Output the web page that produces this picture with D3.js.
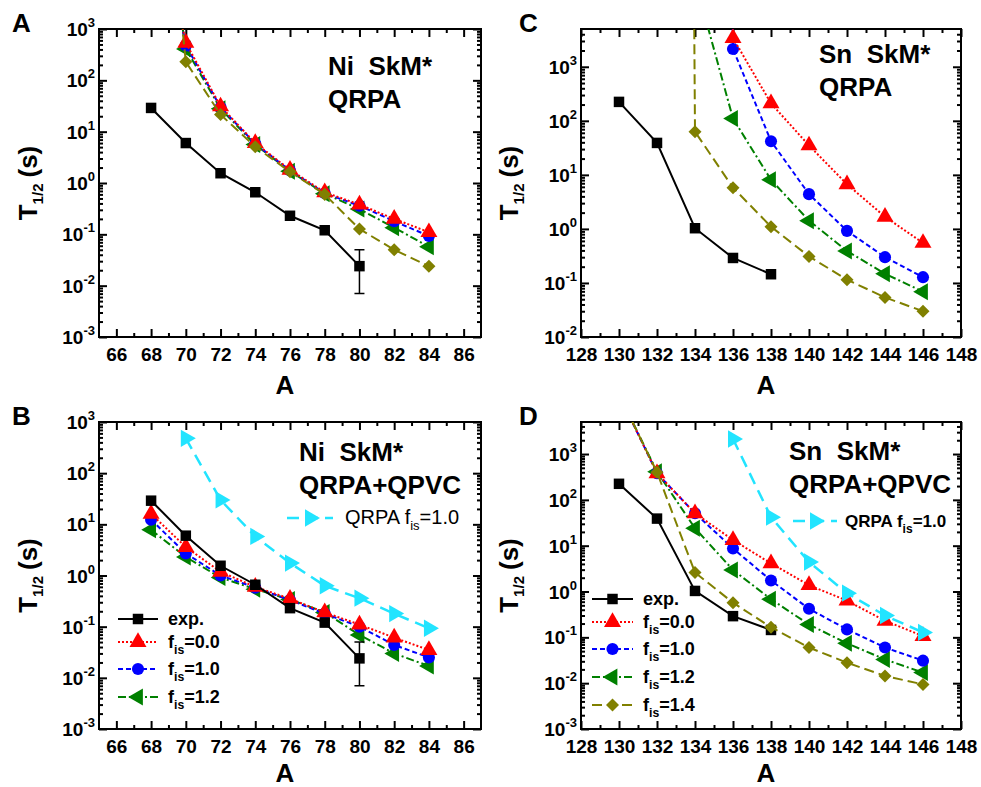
<!DOCTYPE html>
<html>
<head>
<meta charset="utf-8">
<script src="https://cdn.jsdelivr.net/npm/d3@7"></script>
<style>
  body { margin: 0; background: #fff; }
  text { font-family: "Liberation Sans", Arial, sans-serif; }
</style>
</head>
<body>
<svg id="fig" width="981" height="787"></svg>
<script>

// ---- Ni chain (panels A, B) ----
var niMass = [68, 70, 72, 74, 76, 78, 80, 82, 84];
var niExp = [29, 6.0, 1.55, 0.66, 0.23, 0.12, 0.024, null, null];
var niErrMass = [80];
var niErrLo = [0.007];
var niErrHi = [0.05];
// QRPA, f_is = 0.0, 1.0, 1.2, 1.4 (first point lies far above the frame)
var niQrpaF00 = [1e6, 540, 31, 6.0, 1.8, 0.66, 0.38, 0.20, 0.11];
var niQrpaF10 = [1e6, 480, 30, 5.8, 1.75, 0.63, 0.36, 0.18, 0.093];
var niQrpaF12 = [1e7, 410, 28, 5.6, 1.7, 0.62, 0.31, 0.135, 0.057];
var niQrpaF14 = [1e9, 230, 21.5, 5.1, 1.65, 0.60, 0.127, 0.05, 0.024];
// QRPA+QPVC
var niQpvcF00 = [16, 3.6, 1.18, 0.60, 0.35, 0.19, 0.11, 0.061, 0.035];
var niQpvcF10 = [12.3, 2.7, 1.0, 0.58, 0.33, 0.18, 0.10, 0.044, 0.025];
var niQpvcF12 = [7.8, 2.3, 0.91, 0.54, 0.34, 0.19, 0.069, 0.030, 0.017];
var niQrpaRef = [null, 480, 30, 5.8, 1.75, 0.63, 0.36, 0.18, 0.093];

// ---- Sn chain (panels C, D) ----
var snMass = [130, 132, 134, 136, 138, 140, 142, 144, 146];
var snExp = [224, 39, 1.03, 0.29, 0.145, null, null, null, null];
var snQrpaF00 = [null, null, 1e60, 3400, 210, 35, 6.7, 1.68, 0.55];
var snQrpaF10 = [null, null, 1e60, 2130, 42, 4.4, 0.92, 0.30, 0.128];
var snQrpaF12 = [null, null, 4e4, 110, 8.1, 1.42, 0.39, 0.148, 0.069];
var snQrpaF14 = [null, 1e100, 63, 5.8, 1.1, 0.31, 0.115, 0.054, 0.030];
var snQpvcF00 = [2e4, 380, 51, 13.3, 4.1, 1.38, 0.63, 0.23, 0.107];
var snQpvcF10 = [2e4, 380, 51, 8.7, 1.74, 0.42, 0.149, 0.060, 0.031];
var snQpvcF12 = [2e4, 410, 24, 2.95, 0.68, 0.19, 0.074, 0.033, 0.017];
var snQpvcF14 = [2e4, 400, 2.6, 0.57, 0.166, 0.060, 0.028, 0.0144, 0.0094];
var snQrpaRef = [null, null, null, 2130, 42, 4.4, 0.92, 0.30, 0.128];

var niTicks = [66, 68, 70, 72, 74, 76, 78, 80, 82, 84, 86];
var snTicks = [128, 130, 132, 134, 136, 138, 140, 142, 144, 146, 148];

var svg = d3.select('#fig');

// line / marker styles
var sty = {
  exp:  {color: '#000000', dash: null,        sym: d3.symbolSquare,   size: 110, rot: 0},
  f00:  {color: '#ff0000', dash: '2,2',       sym: d3.symbolTriangle, size: 125, rot: 0},
  f10:  {color: '#0000ff', dash: '5,3',       sym: d3.symbolCircle,   size: 115, rot: 0},
  f12:  {color: '#008000', dash: '8,3,2,3',   sym: d3.symbolTriangle, size: 125, rot: -90},
  f14:  {color: '#808000', dash: '10,5',      sym: d3.symbolSquare,   size: 85,  rot: 45},
  ref:  {color: '#22e4ff', dash: '12,7',      sym: d3.symbolTriangle, size: 130, rot: 90, width: 2.5}
};

function drawSeries(g, x, y, xs, vals, st) {
  var pts = xs.map(function(a, i) { return [a, vals[i]]; })
              .filter(function(d) { return d[1] != null; });
  g.append('path')
    .datum(pts)
    .attr('d', d3.line().x(function(d) { return x(d[0]); }).y(function(d) { return y(d[1]); }))
    .attr('fill', 'none')
    .attr('stroke', st.color)
    .attr('stroke-width', st.width || 2)
    .attr('stroke-dasharray', st.dash);
  g.selectAll(null)
    .data(pts)
    .enter()
      .append('path')
      .attr('transform', function(d) { return 'translate(' + x(d[0]) + ',' + y(d[1]) + ') rotate(' + st.rot + ')'; })
      .attr('d', d3.symbol(st.sym, st.size))
      .attr('fill', st.color);
}

function fLabel(t, fs, val, bold) {
  t.attr('font-size', fs).attr('font-weight', bold ? 'bold' : 'normal');
  t.append('tspan').text('f');
  t.append('tspan').attr('font-size', fs * 0.68).attr('dy', 6).text('is');
  t.append('tspan').attr('dy', -6).text('=' + val);
}

function legendRow(g, x0, x1, yy, st, tx, label) {
  g.append('line')
    .attr('x1', x0).attr('x2', x1).attr('y1', yy).attr('y2', yy)
    .attr('stroke', st.color).attr('stroke-width', st.width || 2)
    .attr('stroke-dasharray', st.dash);
  g.append('path')
    .attr('transform', 'translate(' + (x0 + x1) / 2 + ',' + yy + ') rotate(' + st.rot + ')')
    .attr('d', d3.symbol(st.sym, st.size))
    .attr('fill', st.color);
  var t = g.append('text').attr('x', tx).attr('y', yy + 6).attr('font-weight', 'bold');
  label(t);
}

function drawPanel(p) {
  var g = svg.append('g');
  var x = d3.scaleLinear().domain(p.xDomain).range([p.left, p.right]);
  var y = d3.scaleLog().domain(p.yDomain).range([p.bottom, p.top]);

  svg.append('clipPath').attr('id', 'clip' + p.id)
    .append('rect')
    .attr('x', p.left).attr('y', p.top)
    .attr('width', p.right - p.left).attr('height', p.bottom - p.top);

  // ticks
  var xMinor = d3.range(p.xDomain[0], p.xDomain[1] + 1, 1)
                 .filter(function(v) { return p.xTicks.indexOf(v) < 0 && v > p.xDomain[0] && v < p.xDomain[1]; });
  var lo = Math.round(Math.log10(p.yDomain[0])), hi = Math.floor(Math.log10(p.yDomain[1]));
  var yMajor = d3.range(lo, hi + 1).map(function(e) { return Math.pow(10, e); });
  var yMinor = [];
  yMajor.forEach(function(d) {
    for (var k = 2; k <= 9; k++) if (d * k < p.yDomain[1] * 0.999) yMinor.push(d * k);
  });

  function tickGroup(axis, tx, ty) {
    var a = g.append('g').attr('transform', 'translate(' + tx + ',' + ty + ')').call(axis);
    a.select('.domain').remove();
    a.selectAll('line').attr('stroke', '#000').attr('stroke-width', 2);
    return a;
  }
  tickGroup(d3.axisBottom(x).tickValues(xMinor).tickSize(-4).tickFormat(''), 0, p.bottom);
  tickGroup(d3.axisTop(x).tickValues(xMinor).tickSize(-4).tickFormat(''), 0, p.top);
  tickGroup(d3.axisTop(x).tickValues(p.xTicks).tickSize(-8).tickFormat(''), 0, p.top);
  var bx = tickGroup(d3.axisBottom(x).tickValues(p.xTicks).tickSize(-8).tickPadding(11), 0, p.bottom);
  bx.attr('font-size', 19).attr('font-weight', 'bold').attr('font-family', null);
  bx.selectAll('text').attr('fill', '#000');

  tickGroup(d3.axisLeft(y).tickValues(yMinor).tickSize(-4).tickFormat(''), p.left, 0);
  tickGroup(d3.axisRight(y).tickValues(yMinor).tickSize(-4).tickFormat(''), p.right, 0);
  tickGroup(d3.axisLeft(y).tickValues(yMajor).tickSize(-8).tickFormat(''), p.left, 0);
  tickGroup(d3.axisRight(y).tickValues(yMajor).tickSize(-8).tickFormat(''), p.right, 0);

  // y tick labels with superscript
  yMajor.forEach(function(d) {
    var t = g.append('text')
      .attr('x', p.left - 4).attr('y', y(d) + 7)
      .attr('text-anchor', 'end').attr('font-size', 19).attr('font-weight', 'bold');
    t.append('tspan').text('10');
    t.append('tspan').attr('font-size', 13).attr('dy', -9).text(String(Math.round(Math.log10(d))));
  });

  // frame
  g.append('rect')
    .attr('x', p.left).attr('y', p.top)
    .attr('width', p.right - p.left).attr('height', p.bottom - p.top)
    .attr('fill', 'none').attr('stroke', '#000').attr('stroke-width', 2);

  // data
  var dg = g.append('g').attr('clip-path', 'url(#clip' + p.id + ')');
  p.series.forEach(function(s) { drawSeries(dg, x, y, p.mass, s[0], s[1]); });
  if (p.err) {
    var ex = x(p.err[0]);
    dg.append('path')
      .attr('d', 'M' + ex + ',' + y(p.err[1]) + 'V' + y(p.err[2]) +
                 'M' + (ex - 5) + ',' + y(p.err[1]) + 'h10' +
                 'M' + (ex - 5) + ',' + y(p.err[2]) + 'h10')
      .attr('stroke', '#000').attr('stroke-width', 1.5).attr('fill', 'none');
  }

  // titles
  var ty = g.append('text')
    .attr('transform', 'translate(' + p.ytx + ',' + ((p.top + p.bottom) / 2 + 0) + ') rotate(-90)')
    .attr('text-anchor', 'middle').attr('font-size', 26).attr('font-weight', 'bold');
  ty.append('tspan').text('T');
  ty.append('tspan').attr('font-size', 15).attr('dy', 6).text('1/2');
  ty.append('tspan').attr('dy', -6).attr('dx', 6).text('(s)');

  g.append('text')
    .attr('x', (p.left + p.right) / 2 - 5).attr('y', p.xty)
    .attr('text-anchor', 'middle').attr('font-size', 26).attr('font-weight', 'bold')
    .text('A');

  g.append('text')
    .attr('x', p.lx).attr('y', p.top + 3)
    .attr('font-size', 26).attr('font-weight', 'bold')
    .text(p.id);

  p.notes.forEach(function(n, i) {
    g.append('text')
      .attr('x', p.nx).attr('y', p.ny + i * 33)
      .attr('font-size', 26).attr('font-weight', 'bold')
      .style('white-space', 'pre')
      .text(n);
  });

  if (p.legend) p.legend(g);
}

drawPanel({
  id: 'A', left: 99, right: 481, top: 29, bottom: 337, lx: 12, ytx: 37, nx: 328, ny: 75, xty: 394,
  xDomain: [65, 87], xTicks: niTicks, yDomain: [1e-3, 1e3], mass: niMass,
  notes: ['Ni  SkM*', 'QRPA'],
  series: [[niQrpaF12, sty.f12], [niQrpaF10, sty.f10], [niQrpaF00, sty.f00], [niExp, sty.exp], [niQrpaF14, sty.f14]],
  err: [niErrMass[0], niErrLo[0], niErrHi[0]]
});

drawPanel({
  id: 'C', left: 581, right: 961, top: 29, bottom: 337, lx: 519, ytx: 518, nx: 819, ny: 63, xty: 394,
  xDomain: [128, 148], xTicks: snTicks, yDomain: [1e-2, 5e3], mass: snMass,
  notes: ['Sn  SkM*', 'QRPA'],
  series: [[snQrpaF12, sty.f12], [snQrpaF10, sty.f10], [snQrpaF00, sty.f00], [snExp, sty.exp], [snQrpaF14, sty.f14]]
});

drawPanel({
  id: 'B', left: 99, right: 481, top: 422, bottom: 729, lx: 12, ytx: 37, nx: 299, ny: 461, xty: 782,
  xDomain: [65, 87], xTicks: niTicks, yDomain: [1e-3, 1e3], mass: niMass,
  notes: ['Ni  SkM*', 'QRPA+QPVC'],
  series: [[niQpvcF12, sty.f12], [niQpvcF10, sty.f10], [niQpvcF00, sty.f00], [niExp, sty.exp], [niQrpaRef, sty.ref]],
  err: [niErrMass[0], niErrLo[0], niErrHi[0]],
  legend: function(g) {
    legendRow(g, 118, 158, 619, sty.exp, 168, function(t) { t.attr('font-size', 18).text('exp.'); });
    legendRow(g, 118, 158, 642, sty.f00, 168, function(t) { fLabel(t, 18, '0.0', true); });
    legendRow(g, 118, 158, 669, sty.f10, 168, function(t) { fLabel(t, 18, '1.0', true); });
    legendRow(g, 118, 158, 697, sty.f12, 168, function(t) { fLabel(t, 18, '1.2', true); });
    legendRow(g, 287, 333, 518, sty.ref, 345, function(t) {
      t.attr('font-size', 20).attr('font-weight', 'normal');
      t.append('tspan').text('QRPA f');
      t.append('tspan').attr('font-size', 13).attr('dy', 6).text('is');
      t.append('tspan').attr('dy', -6).text('=1.0');
    });
  }
});

drawPanel({
  id: 'D', left: 581, right: 961, top: 422, bottom: 729, lx: 519, ytx: 518, nx: 789, ny: 460, xty: 782,
  xDomain: [128, 148], xTicks: snTicks, yDomain: [1e-3, 5e3], mass: snMass,
  notes: ['Sn  SkM*', 'QRPA+QPVC'],
  series: [[snQpvcF12, sty.f12], [snQpvcF10, sty.f10], [snQpvcF00, sty.f00], [snExp, sty.exp], [snQpvcF14, sty.f14], [snQrpaRef, sty.ref]],
  legend: function(g) {
    legendRow(g, 592, 633, 599, sty.exp, 643, function(t) { t.attr('font-size', 18).text('exp.'); });
    legendRow(g, 592, 633, 622, sty.f00, 643, function(t) { fLabel(t, 18, '0.0', true); });
    legendRow(g, 592, 633, 649, sty.f10, 643, function(t) { fLabel(t, 18, '1.0', true); });
    legendRow(g, 592, 633, 677, sty.f12, 643, function(t) { fLabel(t, 18, '1.2', true); });
    legendRow(g, 592, 633, 705, sty.f14, 643, function(t) { fLabel(t, 18, '1.4', true); });
    legendRow(g, 793, 837, 521, sty.ref, 845, function(t) {
      t.attr('font-size', 17);
      t.append('tspan').text('QRPA f');
      t.append('tspan').attr('font-size', 12).attr('dy', 6).text('is');
      t.append('tspan').attr('dy', -6).text('=1.0');
    });
  }
});

</script>
</body>
</html>
